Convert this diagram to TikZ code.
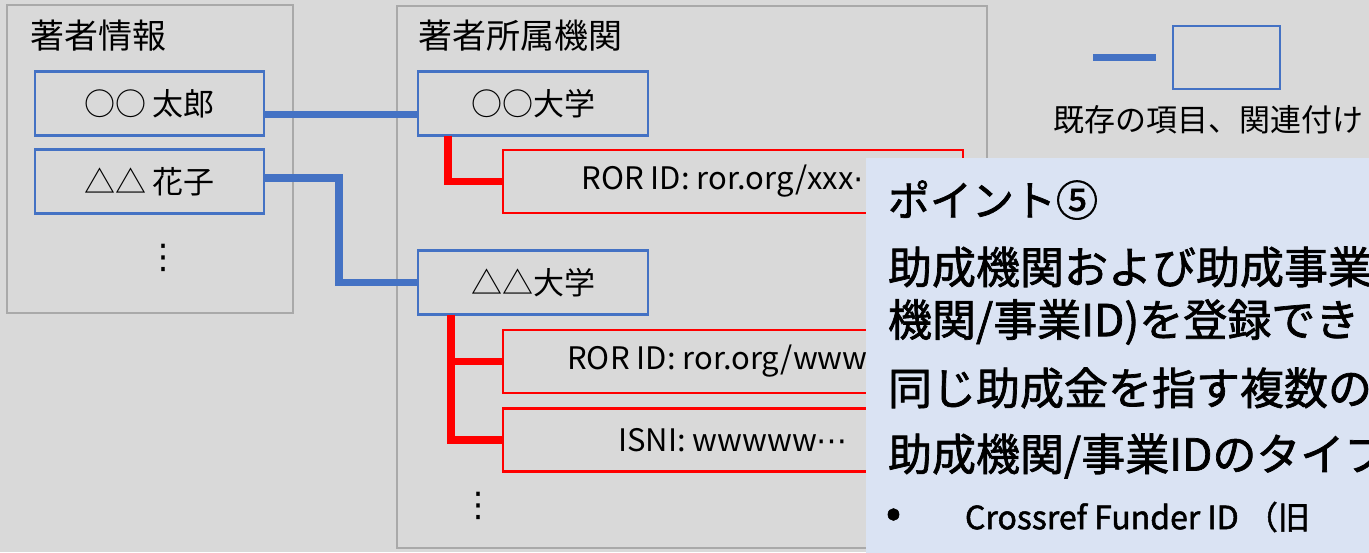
\documentclass[tikz,border=0pt]{standalone}
\usepackage{fontspec}
\setmainfont{Noto Sans CJK JP}
\newfontfamily\heavyfont{Noto Sans CJK JP}[FakeBold=1.6]
\newfontfamily\dejavu{DejaVu Sans}
\newcommand{\midellip}{{\dejavu ⋯}}
\definecolor{bgC}{HTML}{D9D9D9}
\definecolor{frameC}{HTML}{A9A9A9}
\definecolor{blueC}{HTML}{4472C4}
\definecolor{redC}{HTML}{FF0000}
\definecolor{calloutC}{HTML}{DAE3F3}
\begin{document}
\begin{tikzpicture}[x=0.5pt,y=-0.5pt,
  every node/.style={inner sep=0pt, outer sep=0pt, text=black},
  grayframe/.style={draw=frameC, line width=1.3pt},
  titletext/.style={font=\fontsize{17}{20}\selectfont},
  boxtext/.style={font=\fontsize{15.5}{18}\selectfont},
  bluebox/.style={draw=blueC, line width=1.1pt, minimum height=32pt, boxtext},
  redbox/.style={draw=redC, line width=1.1pt, minimum width=230pt, minimum height=31.5pt, boxtext},
  blueline/.style={draw=blueC, line width=3.9pt},
  redline/.style={draw=redC, line width=3.6pt},
  vdots/.style={font=\dejavu\fontsize{17}{17}\selectfont},
  legtext/.style={font=\fontsize{15.5}{18}\selectfont},
  callout/.style={fill=calloutC},
  bigtext/.style={font=\heavyfont\fontsize{22}{26}\selectfont},
  headtext/.style={font=\heavyfont\fontsize{21}{25}\selectfont},
  smalltext/.style={font=\heavyfont\fontsize{16}{19}\selectfont},
  bullettext/.style={font=\heavyfont\fontsize{22}{26}\selectfont}
]
\useasboundingbox (0,0) rectangle (1369,552);
\clip (0,0) rectangle (1369,552);
\fill[bgC] (0,0) rectangle (1369,552);

% author information
\node[grayframe, minimum width=143pt, minimum height=154pt] (authors) at (150,159) {};
\node[titletext, anchor=west] (authtitle) at (30,36) {著者情報};
\node[bluebox, minimum width=114.5pt] (taro) at (149.5,103.5) {○○ 太郎};
\node[bluebox, minimum width=114.5pt] (hanako) at (149.5,181.5) {△△ 花子};
\node[vdots] (dotsA) at (163,258) {⋮};

% affiliations
\node[grayframe, minimum width=295pt, minimum height=271pt] (affil) at (692,277) {};
\node[titletext, anchor=west] (afftitle) at (418,36) {著者所属機関};
\node[bluebox, minimum width=115pt] (univA) at (533,103.5) {○○大学};
\node[redbox] (rorA) at (733,181.5) {ROR ID: ror.org/xxx\midellip};
\node[bluebox, minimum width=115pt] (univB) at (533,282.5) {△△大学};
\node[redbox] (rorB) at (733,361.5) {ROR ID: ror.org/www\midellip};
\node[redbox] (isniB) at (733,440) {ISNI: wwwww\midellip};
\node[vdots] (dotsB) at (478,506) {⋮};

% connectors
\draw[blueline] ([yshift=-5.5pt]taro.east) -- ([yshift=-5.5pt]univA.west);
\draw[blueline] ([yshift=1.75pt]hanako.east) -- ++(75,0) |- (univB.west);
\draw[redline] ([xshift=15pt]univA.south west) |- (rorA.west);
\draw[redline] ([xshift=16.5pt]univB.south west) |- (rorB.west);
\draw[redline] ([xshift=16.5pt]univB.south west) |- (isniB.west);

% legend
\node[bluebox, minimum width=53.5pt, minimum height=31.5pt] (legbox) at (1226.5,57.5) {};
\coordinate (legL) at (1093,57.5);
\draw[blueline] (legL) -- ([xshift=-8.5pt]legbox.west);
\node[legtext, anchor=west] (legend) at (1053,120) {既存の項目、関連付け};

% callout
\node[callout, anchor=north west, minimum width=262pt, minimum height=202pt] (callout) at (866,158) {};
\node[headtext, anchor=west] (p1) at (888,200) {ポイント⑤};
\node[bigtext, anchor=west] (p2) at (888,267) {助成機関および助成事業};
\node[bigtext, anchor=west] (p3) at (888,322) {機関/事業ID)を登録でき};
\node[bigtext, anchor=west] (p4) at (888,388) {同じ助成金を指す複数の};
\node[bigtext, anchor=west] (p5) at (888,456) {助成機関/事業IDのタイプ};
\node[bullettext, anchor=west] (bullet) at (886,518) {•};
\node[smalltext, anchor=west] (p6) at (965,517) {Crossref Funder ID （旧};
\end{tikzpicture}
\end{document}
